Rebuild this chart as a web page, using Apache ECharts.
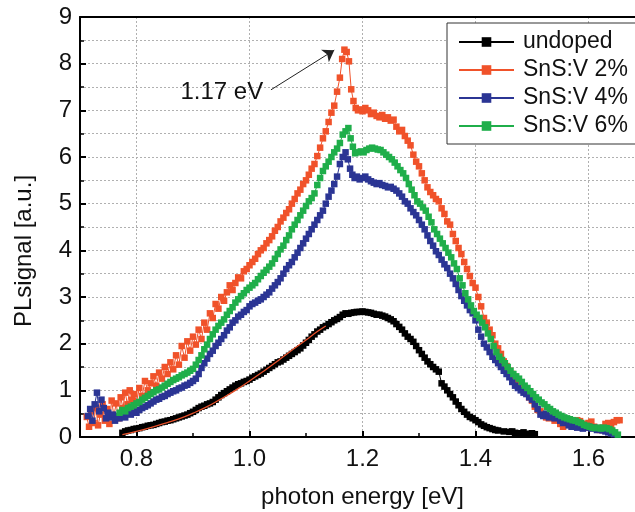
<!DOCTYPE html>
<html><head><meta charset="utf-8">
<script src="https://cdn.jsdelivr.net/npm/echarts@6/dist/echarts.min.js"></script>
<style>html,body{margin:0;padding:0;background:#fff}#c{width:635px;height:512px}</style>
</head><body><div id="c"></div>
<script>
const seriesNames = ['undoped', 'SnS:V 2%', 'SnS:V 4%', 'SnS:V 6%'];
const seriesColors = ['#000000', '#f0522a', '#2b3594', '#1fae4a'];
const xMajorTicks = [0.8, 1.0, 1.2, 1.4, 1.6];
const xMinorTicks = [0.7, 0.9, 1.1, 1.3, 1.5, 1.7];

const undoped = [[0.775,0.09],[0.780,0.12],[0.785,0.14],[0.790,0.15],[0.795,0.17],[0.800,0.18],[0.805,0.19],[0.810,0.21],[0.815,0.22],[0.820,0.24],[0.825,0.25],[0.830,0.26],[0.835,0.28],[0.840,0.30],[0.845,0.32],[0.850,0.33],[0.855,0.35],[0.860,0.36],[0.865,0.38],[0.870,0.40],[0.875,0.42],[0.880,0.44],[0.885,0.46],[0.890,0.48],[0.895,0.51],[0.900,0.54],[0.905,0.58],[0.910,0.62],[0.915,0.65],[0.920,0.67],[0.925,0.70],[0.930,0.72],[0.935,0.75],[0.940,0.80],[0.945,0.85],[0.950,0.90],[0.955,0.94],[0.960,0.98],[0.965,1.02],[0.970,1.06],[0.975,1.10],[0.980,1.13],[0.985,1.15],[0.990,1.18],[0.995,1.20],[1.000,1.23],[1.005,1.27],[1.010,1.30],[1.015,1.33],[1.020,1.36],[1.025,1.40],[1.030,1.44],[1.035,1.48],[1.040,1.52],[1.045,1.56],[1.050,1.60],[1.055,1.62],[1.060,1.66],[1.065,1.70],[1.070,1.74],[1.075,1.78],[1.080,1.82],[1.085,1.86],[1.090,1.90],[1.095,1.96],[1.100,2.02],[1.105,2.08],[1.110,2.15],[1.115,2.20],[1.120,2.26],[1.125,2.30],[1.130,2.35],[1.135,2.38],[1.140,2.42],[1.145,2.46],[1.150,2.50],[1.155,2.53],[1.160,2.57],[1.165,2.62],[1.170,2.65],[1.175,2.64],[1.180,2.66],[1.185,2.67],[1.190,2.68],[1.195,2.68],[1.200,2.69],[1.205,2.68],[1.210,2.67],[1.215,2.66],[1.220,2.64],[1.225,2.62],[1.230,2.62],[1.235,2.60],[1.240,2.58],[1.245,2.55],[1.250,2.52],[1.255,2.48],[1.260,2.42],[1.265,2.36],[1.270,2.30],[1.275,2.22],[1.280,2.15],[1.285,2.10],[1.290,2.04],[1.295,1.95],[1.300,1.86],[1.305,1.78],[1.310,1.70],[1.315,1.62],[1.320,1.56],[1.325,1.50],[1.330,1.45],[1.335,1.40],[1.340,1.15],[1.345,1.08],[1.350,1.00],[1.355,0.92],[1.360,0.85],[1.365,0.76],[1.370,0.68],[1.375,0.60],[1.380,0.54],[1.385,0.48],[1.390,0.43],[1.395,0.40],[1.400,0.36],[1.405,0.32],[1.410,0.27],[1.415,0.24],[1.420,0.21],[1.425,0.19],[1.430,0.17],[1.435,0.15],[1.440,0.14],[1.450,0.12],[1.460,0.11],[1.465,0.12],[1.470,0.09],[1.480,0.08],[1.485,0.10],[1.490,0.07],[1.500,0.08],[1.505,0.06]];

const v2 = [[0.712,0.43],[0.716,0.22],[0.720,0.55],[0.724,0.30],[0.728,0.62],[0.732,0.25],[0.736,0.48],[0.740,0.70],[0.744,0.35],[0.748,0.60],[0.752,0.28],[0.756,0.78],[0.760,0.45],[0.764,0.72],[0.768,0.40],[0.772,0.85],[0.776,0.62],[0.780,0.95],[0.784,0.70],[0.788,1.00],[0.792,0.80],[0.796,0.92],[0.800,0.75],[0.805,1.05],[0.810,0.88],[0.815,1.20],[0.820,1.00],[0.825,1.15],[0.830,1.30],[0.835,1.10],[0.840,1.38],[0.845,1.25],[0.850,1.50],[0.855,1.35],[0.860,1.60],[0.865,1.45],[0.870,1.75],[0.875,1.55],[0.880,1.95],[0.885,1.70],[0.890,2.05],[0.895,1.85],[0.900,2.15],[0.905,1.98],[0.910,2.30],[0.915,2.10],[0.920,2.45],[0.925,2.30],[0.930,2.65],[0.935,2.55],[0.940,2.85],[0.945,2.75],[0.950,3.00],[0.955,2.92],[0.960,3.10],[0.965,3.25],[0.970,3.15],[0.975,3.30],[0.980,3.42],[0.985,3.40],[0.990,3.55],[0.995,3.60],[1.000,3.68],[1.005,3.75],[1.010,3.82],[1.015,3.92],[1.020,4.00],[1.025,4.05],[1.030,4.15],[1.035,4.22],[1.040,4.30],[1.045,4.42],[1.050,4.50],[1.055,4.62],[1.060,4.70],[1.065,4.80],[1.070,4.88],[1.075,5.00],[1.080,5.10],[1.085,5.22],[1.090,5.30],[1.095,5.42],[1.100,5.50],[1.105,5.62],[1.110,5.75],[1.115,5.85],[1.120,6.02],[1.125,6.20],[1.130,6.40],[1.135,6.55],[1.140,6.75],[1.145,6.95],[1.150,7.10],[1.155,7.40],[1.160,7.70],[1.164,8.10],[1.168,8.30],[1.172,8.25],[1.176,8.05],[1.180,7.45],[1.184,7.20],[1.188,7.05],[1.192,7.00],[1.196,7.02],[1.200,6.98],[1.205,7.05],[1.210,7.00],[1.215,6.92],[1.220,6.95],[1.225,6.88],[1.230,6.85],[1.235,6.90],[1.240,6.82],[1.245,6.85],[1.250,6.78],[1.255,6.80],[1.260,6.65],[1.265,6.55],[1.270,6.58],[1.275,6.45],[1.280,6.35],[1.285,6.25],[1.290,6.05],[1.295,5.90],[1.300,5.80],[1.305,5.65],[1.310,5.50],[1.315,5.35],[1.320,5.25],[1.325,5.18],[1.330,5.10],[1.335,5.05],[1.340,4.90],[1.345,4.78],[1.350,4.62],[1.355,4.55],[1.360,4.35],[1.365,4.20],[1.370,4.05],[1.375,3.92],[1.380,3.75],[1.385,3.60],[1.390,3.45],[1.395,3.30],[1.400,3.20],[1.405,3.00],[1.410,2.80],[1.415,2.55],[1.420,2.45],[1.425,2.30],[1.430,2.18],[1.435,2.00],[1.440,1.90],[1.445,1.78],[1.450,1.62],[1.455,1.52],[1.460,1.42],[1.465,1.35],[1.470,1.25],[1.475,1.18],[1.480,1.10],[1.485,1.02],[1.490,0.95],[1.495,0.85],[1.500,0.78],[1.505,0.65],[1.510,0.58],[1.515,0.55],[1.520,0.48],[1.525,0.42],[1.530,0.40],[1.535,0.45],[1.540,0.35],[1.545,0.38],[1.550,0.28],[1.555,0.22],[1.560,0.30],[1.565,0.28],[1.570,0.32],[1.575,0.25],[1.580,0.36],[1.585,0.34],[1.590,0.28],[1.595,0.20],[1.600,0.30],[1.605,0.33],[1.610,0.22],[1.615,0.18],[1.620,0.15],[1.625,0.20],[1.630,0.28],[1.635,0.30],[1.640,0.22],[1.645,0.32],[1.650,0.36],[1.655,0.36]];

const v4 = [[0.714,0.45],[0.718,0.60],[0.722,0.35],[0.726,0.70],[0.730,0.95],[0.734,0.55],[0.738,0.80],[0.742,0.62],[0.746,0.40],[0.750,0.52],[0.754,0.42],[0.758,0.48],[0.762,0.35],[0.766,0.45],[0.770,0.40],[0.775,0.48],[0.780,0.42],[0.785,0.50],[0.790,0.48],[0.795,0.55],[0.800,0.52],[0.805,0.58],[0.810,0.62],[0.815,0.65],[0.820,0.68],[0.825,0.72],[0.830,0.76],[0.835,0.80],[0.840,0.82],[0.845,0.86],[0.850,0.88],[0.855,0.92],[0.860,0.95],[0.865,0.98],[0.870,1.00],[0.875,1.04],[0.880,1.06],[0.885,1.10],[0.890,1.12],[0.895,1.16],[0.900,1.20],[0.905,1.25],[0.910,1.35],[0.915,1.48],[0.920,1.58],[0.925,1.68],[0.930,1.78],[0.935,1.85],[0.940,1.95],[0.945,2.02],[0.950,2.10],[0.955,2.18],[0.960,2.28],[0.965,2.35],[0.970,2.45],[0.975,2.50],[0.980,2.58],[0.985,2.62],[0.990,2.68],[0.995,2.72],[1.000,2.80],[1.005,2.85],[1.010,2.88],[1.015,2.92],[1.020,2.95],[1.025,3.00],[1.030,3.05],[1.035,3.10],[1.040,3.18],[1.045,3.25],[1.050,3.32],[1.055,3.40],[1.060,3.50],[1.065,3.60],[1.070,3.68],[1.075,3.75],[1.080,3.85],[1.085,3.95],[1.090,4.05],[1.095,4.15],[1.100,4.25],[1.105,4.35],[1.110,4.45],[1.115,4.55],[1.120,4.65],[1.125,4.75],[1.130,4.85],[1.135,5.00],[1.140,5.15],[1.145,5.28],[1.150,5.42],[1.155,5.58],[1.160,5.85],[1.165,6.00],[1.170,6.10],[1.174,5.95],[1.178,5.75],[1.182,5.62],[1.186,5.55],[1.190,5.58],[1.195,5.52],[1.200,5.55],[1.205,5.58],[1.210,5.52],[1.215,5.48],[1.220,5.45],[1.225,5.42],[1.230,5.44],[1.235,5.40],[1.240,5.38],[1.245,5.35],[1.250,5.36],[1.255,5.32],[1.260,5.28],[1.265,5.22],[1.270,5.15],[1.275,5.05],[1.280,5.00],[1.285,4.90],[1.290,4.82],[1.295,4.75],[1.300,4.65],[1.305,4.55],[1.310,4.45],[1.315,4.32],[1.320,4.20],[1.325,4.10],[1.330,3.98],[1.335,3.90],[1.340,3.80],[1.345,3.70],[1.350,3.62],[1.355,3.50],[1.360,3.40],[1.365,3.28],[1.370,3.15],[1.375,3.02],[1.380,2.92],[1.385,2.82],[1.390,2.72],[1.395,2.65],[1.400,2.50],[1.405,2.30],[1.410,2.15],[1.415,2.00],[1.420,1.92],[1.425,1.82],[1.430,1.72],[1.435,1.65],[1.440,1.58],[1.445,1.50],[1.450,1.42],[1.455,1.35],[1.460,1.28],[1.465,1.18],[1.470,1.10],[1.475,1.05],[1.480,1.00],[1.485,0.95],[1.490,0.92],[1.495,0.85],[1.500,0.80],[1.505,0.70],[1.510,0.60],[1.515,0.48],[1.520,0.45],[1.525,0.50],[1.530,0.42],[1.535,0.45],[1.540,0.40],[1.545,0.42],[1.550,0.35],[1.555,0.30],[1.560,0.32],[1.565,0.25],[1.570,0.22],[1.575,0.28],[1.580,0.20],[1.585,0.24],[1.590,0.18],[1.595,0.20],[1.600,0.22],[1.605,0.18],[1.610,0.20],[1.615,0.15],[1.620,0.19],[1.625,0.14],[1.630,0.12],[1.635,0.10],[1.640,0.08],[1.645,0.06]];

const v6 = [[0.770,0.52],[0.775,0.58],[0.780,0.55],[0.785,0.62],[0.790,0.65],[0.795,0.68],[0.800,0.72],[0.805,0.75],[0.810,0.80],[0.815,0.84],[0.820,0.88],[0.825,0.92],[0.830,0.96],[0.835,1.00],[0.840,1.02],[0.845,1.06],[0.850,1.10],[0.855,1.14],[0.860,1.18],[0.865,1.22],[0.870,1.25],[0.875,1.28],[0.880,1.32],[0.885,1.35],[0.890,1.38],[0.895,1.42],[0.900,1.46],[0.905,1.55],[0.910,1.65],[0.915,1.75],[0.920,1.88],[0.925,1.98],[0.930,2.10],[0.935,2.20],[0.940,2.30],[0.945,2.38],[0.950,2.45],[0.955,2.52],[0.960,2.62],[0.965,2.70],[0.970,2.78],[0.975,2.88],[0.980,2.95],[0.985,3.02],[0.990,3.08],[0.995,3.15],[1.000,3.20],[1.005,3.25],[1.010,3.30],[1.015,3.38],[1.020,3.45],[1.025,3.52],[1.030,3.58],[1.035,3.65],[1.040,3.72],[1.045,3.82],[1.050,3.92],[1.055,4.02],[1.060,4.10],[1.065,4.22],[1.070,4.32],[1.075,4.45],[1.080,4.55],[1.085,4.65],[1.090,4.75],[1.095,4.85],[1.100,4.95],[1.105,5.05],[1.110,5.12],[1.115,5.22],[1.120,5.40],[1.125,5.55],[1.130,5.70],[1.135,5.80],[1.140,5.90],[1.145,6.00],[1.150,6.10],[1.155,6.18],[1.160,6.30],[1.165,6.48],[1.170,6.55],[1.175,6.62],[1.179,6.40],[1.183,6.22],[1.187,6.08],[1.192,6.10],[1.197,6.12],[1.202,6.10],[1.207,6.15],[1.212,6.18],[1.217,6.20],[1.222,6.18],[1.227,6.16],[1.232,6.15],[1.237,6.10],[1.242,6.05],[1.247,6.00],[1.252,5.95],[1.257,5.88],[1.262,5.80],[1.267,5.72],[1.272,5.65],[1.277,5.55],[1.282,5.42],[1.287,5.30],[1.292,5.18],[1.297,5.05],[1.302,5.00],[1.307,4.92],[1.312,4.85],[1.317,4.72],[1.322,4.60],[1.327,4.45],[1.332,4.35],[1.337,4.25],[1.342,4.15],[1.347,4.05],[1.352,3.95],[1.357,3.85],[1.362,3.72],[1.367,3.60],[1.372,3.40],[1.377,3.25],[1.382,3.08],[1.387,2.95],[1.392,2.82],[1.397,2.70],[1.402,2.62],[1.407,2.55],[1.412,2.45],[1.417,2.35],[1.422,2.22],[1.427,2.10],[1.432,1.95],[1.437,1.82],[1.442,1.72],[1.447,1.65],[1.452,1.58],[1.457,1.50],[1.462,1.42],[1.467,1.35],[1.472,1.30],[1.477,1.25],[1.482,1.18],[1.487,1.10],[1.492,1.05],[1.497,0.98],[1.502,0.92],[1.507,0.85],[1.512,0.80],[1.517,0.74],[1.522,0.70],[1.527,0.64],[1.532,0.60],[1.537,0.55],[1.542,0.52],[1.547,0.48],[1.552,0.45],[1.557,0.42],[1.562,0.40],[1.567,0.38],[1.572,0.36],[1.577,0.35],[1.582,0.32],[1.587,0.30],[1.592,0.26],[1.597,0.24],[1.602,0.22],[1.607,0.20],[1.612,0.19],[1.617,0.20],[1.622,0.18],[1.627,0.20],[1.632,0.19],[1.637,0.17],[1.642,0.14],[1.647,0.10],[1.652,0.05]];

const fitUndoped = [[0.775,0.05],[0.800,0.12],[0.825,0.20],[0.850,0.29],[0.875,0.39],[0.900,0.51],[0.925,0.65],[0.950,0.82],[0.975,1.00],[1.000,1.20],[1.025,1.41],[1.050,1.63],[1.075,1.86],[1.100,2.08],[1.120,2.26],[1.135,2.38]];

const peakLabel = '1.17 eV';
const arrowFrom = [1.038, 7.44];
const arrowTo = [1.150, 8.29];
const labelAt = [0.951, 7.39];

const FONT = 'Liberation Sans, Arial, sans-serif';
const chart = echarts.init(document.getElementById('c'), null, {renderer: 'canvas'});
const dataSets = [undoped, v2, v4, v6];
const zOrder = [3, 4, 5, 6];
const dotted = {show: true, lineStyle: {color: '#b0b0b0', type: [2, 2], width: 1}};

const series = dataSets.map((d, i) => ({
  name: seriesNames[i], type: 'line', data: d,
  symbol: 'rect', symbolSize: 6.5, showSymbol: true,
  itemStyle: {color: seriesColors[i]},
  lineStyle: {color: seriesColors[i], width: 1},
  emphasis: {disabled: true}, animation: false, z: zOrder[i]
}));
series.push({
  name: 'fit', type: 'line', data: fitUndoped, smooth: true, symbol: 'none',
  lineStyle: {color: '#e8502a', width: 1.3}, z: 10, animation: false
});
series.push({
  name: 'annotation', type: 'line', data: [], z: 12, animation: false,
  markLine: {
    silent: true, symbol: ['none', 'arrow'], symbolSize: 11,
    itemStyle: {color: '#111'},
    lineStyle: {color: '#222', width: 1, type: 'solid'}, label: {show: false},
    data: [[{coord: arrowFrom}, {coord: arrowTo}]]
  },
  markPoint: {
    silent: true, symbol: 'circle', symbolSize: 1, itemStyle: {color: 'rgba(0,0,0,0)'},
    label: {show: true, position: 'inside', formatter: peakLabel, color: '#111', fontSize: 24, fontFamily: FONT},
    data: [{coord: labelAt}]
  }
});

const axisBase = {type: 'value', min: 0.7, max: 1.7, interval: 0.1};
chart.setOption({
  animation: false,
  backgroundColor: '#fff',
  grid: {left: 80, top: 17, width: 565, height: 420, outerBoundsMode: 'none', containLabel: false},
  legend: {
    data: seriesNames, left: 447, top: 23, orient: 'vertical',
    backgroundColor: '#fff', borderColor: '#333', borderWidth: 1,
    padding: [7, 60, 6, 11], itemWidth: 55, itemHeight: 12, itemGap: 4,
    textStyle: {fontSize: 23, fontFamily: FONT, color: '#111', lineHeight: 24, padding: [0, 0, 0, 4]}
  },
  xAxis: [Object.assign({}, axisBase, {
    name: 'photon energy [eV]', nameLocation: 'middle', nameGap: 48,
    nameTextStyle: {fontSize: 24, fontFamily: FONT, color: '#111'},
    axisLine: {show: true, onZero: false, lineStyle: {color: '#000', width: 2}},
    axisTick: {show: true, inside: true, length: 6, customValues: xMajorTicks, lineStyle: {color: '#000', width: 2}},
    axisLabel: {fontSize: 24, fontFamily: FONT, color: '#111', margin: 10, customValues: xMajorTicks,
      formatter: v => Number(v).toFixed(1)},
    splitLine: dotted
  }), Object.assign({}, axisBase, {
    position: 'top',
    axisLine: {show: true, onZero: false, lineStyle: {color: '#000', width: 2}},
    axisTick: {show: false}, axisLabel: {show: false}, splitLine: {show: false}
  }), Object.assign({}, axisBase, {
    position: 'bottom', offset: 0,
    axisLine: {show: false, onZero: false},
    axisTick: {show: true, inside: true, length: 4, customValues: xMinorTicks, lineStyle: {color: '#000', width: 1.5}},
    axisLabel: {show: false}, splitLine: {show: false}
  })],
  yAxis: [{
    type: 'value', min: 0, max: 9, interval: 1,
    name: 'PLsignal [a.u.]', nameLocation: 'middle', nameGap: 44,
    nameTextStyle: {fontSize: 24, fontFamily: FONT, color: '#111', padding: [0, 48, 0, 0]},
    axisLine: {show: true, lineStyle: {color: '#000', width: 2}},
    axisTick: {show: true, inside: true, length: 6, lineStyle: {color: '#000', width: 2}},
    minorTick: {show: true, splitNumber: 2, length: 4, lineStyle: {color: '#000', width: 1.5}},
    axisLabel: {fontSize: 24, fontFamily: FONT, color: '#111', margin: 8},
    splitLine: dotted, minorSplitLine: dotted
  }],
  series: series
});
</script></body></html>
